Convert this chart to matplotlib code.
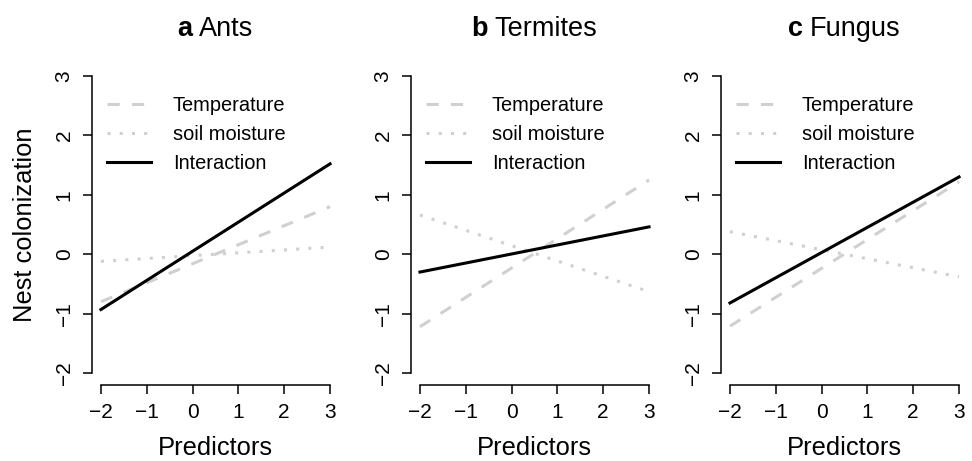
import matplotlib
matplotlib.use("Agg")
import matplotlib.pyplot as plt
from matplotlib.offsetbox import TextArea, HPacker, AnnotationBbox

plt.rcParams['font.family'] = ['Liberation Sans', 'DejaVu Sans']

# x range of the fitted lines
X_ENDS = [-2, 3]

PANEL_LETTERS = ['a', 'b', 'c']
PANEL_NAMES = ['Ants', 'Termites', 'Fungus']

# line end values (at x=-2 and x=3)
temperature = [[-0.80, 0.80], [-1.22, 1.25], [-1.21, 1.22]]
soil_moisture = [[-0.12, 0.12], [0.66, -0.63], [0.38, -0.38]]
interaction = [[-0.93, 1.52], [-0.30, 0.46], [-0.82, 1.30]]

SERIES_LABELS = ['Temperature', 'soil moisture', 'Interaction']
TICKS = [-2, -1, 0, 1, 2, 3]
TICK_LABELS = ['\u22122', '\u22121', '0', '1', '2', '3']

GRAY = '#d0d0d0'
LW = 2.2

fig = plt.figure(figsize=(9.72, 4.61), dpi=100)
lefts = [91.8, 410.8, 720.8]
ax_w = 247.4 / 972
ax_b = 1 - 385 / 461
ax_h = 321 / 461

for i in range(3):
    ax = fig.add_axes([lefts[i] / 972, ax_b, ax_w, ax_h])
    ax.plot(X_ENDS, temperature[i], color=GRAY, lw=LW, linestyle=(0, (4, 4)),
            label=SERIES_LABELS[0])
    ax.plot(X_ENDS, soil_moisture[i], color=GRAY, lw=LW, linestyle=(0, (1, 3)),
            label=SERIES_LABELS[1])
    ax.plot(X_ENDS, interaction[i], color='black', lw=LW, label=SERIES_LABELS[2])

    ax.set_xlim(-2.2, 3.2)
    ax.set_ylim(-2.2, 3.2)
    ax.set_xticks(TICKS)
    ax.set_yticks(TICKS)
    ax.set_xticklabels(TICK_LABELS)
    ax.set_yticklabels(TICK_LABELS, rotation=90, va='center')
    ax.tick_params(length=6.5, width=1.1, labelsize=15, pad=6.5)

    for side in ['top', 'right']:
        ax.spines[side].set_visible(False)
    ax.spines['left'].set_bounds(-2, 3)
    ax.spines['bottom'].set_bounds(-2, 3)
    ax.spines['left'].set_linewidth(1.1)
    ax.spines['bottom'].set_linewidth(1.1)

    ax.set_xlabel('Predictors', fontsize=18.4)
    ax.xaxis.set_label_coords(0.5, -0.16)
    if i == 0:
        ax.set_ylabel('Nest colonization', fontsize=18.4)
        ax.yaxis.set_label_coords(-0.22, 0.5)

    ax.legend(loc='upper left', bbox_to_anchor=(0.06, 0.90), frameon=False,
              fontsize=14.4, handlelength=2.2, handletextpad=1.1,
              borderpad=0, borderaxespad=0, labelspacing=0.5)

    title = HPacker(children=[
        TextArea(PANEL_LETTERS[i], textprops=dict(fontsize=19.5, fontweight='bold')),
        TextArea(PANEL_NAMES[i], textprops=dict(fontsize=19.5)),
    ], sep=5, pad=0, align='baseline')
    ab = AnnotationBbox(title, (0.5, 1.07), xycoords='axes fraction',
                        frameon=False, box_alignment=(0.5, 0), pad=0)
    ax.add_artist(ab)

fig.savefig('out.png', dpi=100)
